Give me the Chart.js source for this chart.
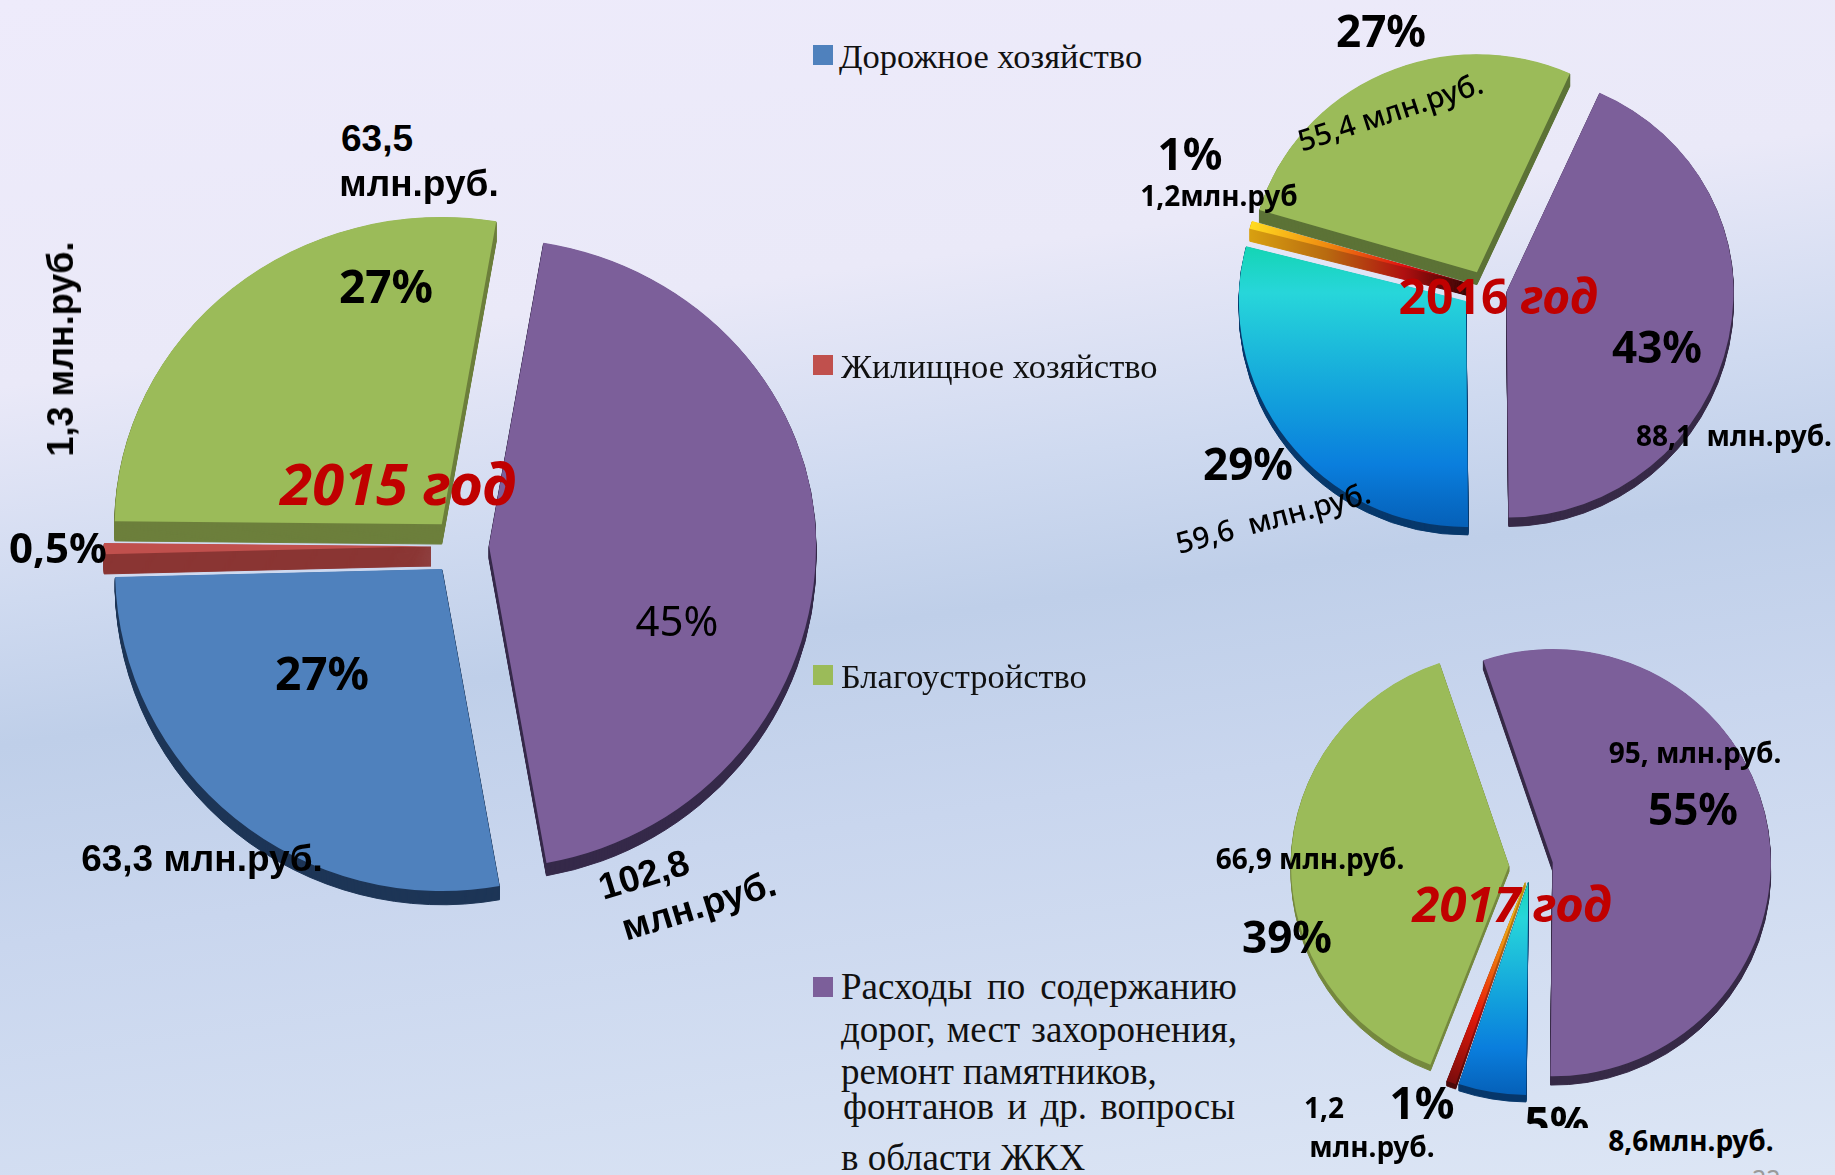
<!DOCTYPE html>
<html lang="ru"><head><meta charset="utf-8">
<script src="https://cdn.jsdelivr.net/npm/chart.js@4"></script>
<style>
html,body{margin:0;padding:0;width:1835px;height:1175px;overflow:hidden}
body{position:relative;background:linear-gradient(172deg,#EEEBFB 0%,#EAE9F8 27%,#CFDAF0 42%,#BFCFE9 52%,#C9D6EE 66%,#DDE6F5 100%)}
canvas{position:absolute}
.t{position:absolute;white-space:pre;color:#000;transform:translate(-50%,-50%);line-height:1;z-index:5}
.leg{position:absolute;white-space:pre;font-family:"Liberation Serif",serif;color:#111;line-height:1;z-index:4}
.sw{position:absolute;width:20px;height:20px;z-index:4}
</style></head><body>
<script>
const categories=['Расходы по содержанию дорог, мест захоронения, ремонт памятников, фонтанов и др. вопросы в области ЖКХ','Дорожное хозяйство','Жилищное хозяйство','Благоустройство'];
const values2015=[102.8,63.3,1.3,63.5];
const values2016=[88.1,59.6,1.2,55.4];
const values2017=[95,8.6,1.2,66.9];
const palette=['#7C5F9A','#4F81BD','#C0504D','#9BBB59'];
const legendLines=['Дорожное хозяйство','Жилищное хозяйство','Благоустройство'];
const legendLong=['Расходы по содержанию','дорог, мест захоронения,','ремонт памятников,','фонтанов  и др. вопросы','в области ЖКХ'];

function blueFace(ctx,a){const r=a.outerRadius,top=Math.min(a.y,a.y+r*Math.sin(a.startAngle),a.y+r*Math.sin(a.endAngle));
  const g=ctx.createLinearGradient(0,top,0,a.y+r);
  g.addColorStop(0,'#14D5B4');g.addColorStop(.17,'#27D6DA');g.addColorStop(.55,'#12A0DC');g.addColorStop(.78,'#0A7EDD');g.addColorStop(1,'#0560B8');return g;}
function fireGrad(ctx,a,stops){const m=(a.startAngle+a.endAngle)/2,r=a.outerRadius;
  const g=ctx.createLinearGradient(a.x,a.y,a.x+r*Math.cos(m),a.y+r*Math.sin(m));stops.forEach(s=>g.addColorStop(s[0],s[1]));return g;}
const fireFace=(c,a)=>fireGrad(c,a,[[0,'#5A0000'],[.3,'#E01010'],[.65,'#F08A10'],[1,'#FFDC20']]);
const fireSide=(c,a)=>fireGrad(c,a,[[0,'#300000'],[.3,'#B01010'],[.65,'#B86A10'],[1,'#D8A010']]);
const fireFaceIn=(c,a)=>fireGrad(c,a,[[0,'#F0D020'],[.3,'#F09010'],[.65,'#E81808'],[1,'#7A0C0C']]);
const fireSideIn=(c,a)=>fireGrad(c,a,[[0,'#C09010'],[.3,'#B06A10'],[.65,'#A01010'],[1,'#4A0808']]);

const explode={id:'explode',beforeDatasetDraw(chart,args,o){
  const ctx=chart.ctx,arcs=chart.getDatasetMeta(0).data;
  const paint=(arc,i,fill,dy,bw)=>{const base=arc.options,m=(arc.startAngle+arc.endAngle)/2;
    const f=typeof fill==='function'?fill(ctx,arc):fill;
    arc.options=Object.assign({},base,{backgroundColor:f,borderColor:f,borderWidth:bw});
    ctx.save();ctx.translate(Math.cos(m)*o.offsets[i],Math.sin(m)*o.offsets[i]+dy);arc.draw(ctx);ctx.restore();arc.options=base;};
  const drawAll=()=>arcs.forEach((arc,i)=>{for(let d=o.depths[i];d>0;d--)paint(arc,i,o.sides[i],d,1);paint(arc,i,o.faces[i],0,0);});
  const cy=Math.round(arcs[0].y),W=chart.width,H=chart.height;
  [[0,cy,o.scaleUp],[cy,H-cy,o.scaleDown]].forEach(([t,h,s])=>{ctx.save();ctx.beginPath();ctx.rect(0,t,W,h);ctx.clip();
    ctx.translate(0,cy);ctx.scale(1,s);ctx.translate(0,-cy);drawAll();ctx.restore();});
  return false;}};

function pie(values,cx,cy,r,rotation,view,faces,sides,offsets,depths){
  const S=2*(r+Math.max(...offsets)+Math.max(...depths)+6);
  const cv=document.createElement('canvas');cv.width=S;cv.height=S;cv.style.left=(cx-S/2)+'px';cv.style.top=(cy-S/2)+'px';
  document.body.appendChild(cv);
  new Chart(cv,{type:'pie',plugins:[explode],data:{labels:categories,datasets:[{data:values,backgroundColor:palette,borderWidth:0,radius:r}]},
    options:{responsive:false,animation:false,rotation,layout:{padding:0},events:[],
      plugins:{legend:{display:false},tooltip:{enabled:false},explode:{faces,sides,offsets,depths,scaleUp:view[0],scaleDown:view[1]}}}});
}
pie(values2015,461,546,327,9.6,[.94,.985],palette,['#35294A','#1D3557','#8A3533','#6C7F3C'],[28,30,30,30],[13,14,20,21]);
pie(values2016,1484,287,227,24.2,[.96,.995],['#7C5F9A',blueFace,fireFace,'#9BBB59'],['#372A47','#07386B',fireSide,'#5C7336'],[23,23,15,17],[9,8,13,13]);
pie(values2017,1531,866,218,-18.6,[.98,.98],['#7C5F9A',blueFace,fireFaceIn,'#9BBB59'],['#372A47','#07386B',fireSideIn,'#75893F'],[22,16,17,22],[9,7,5,6]);

const ARIAL='"Liberation Sans",sans-serif',NOTO='"Noto Sans",sans-serif';
const texts=[
 ['63,5',377,139,37,700,ARIAL,0],['млн.руб.',419,184,37,700,ARIAL,0],['27%',386,285,46,700,NOTO,0],['27%',322,672,46,700,NOTO,0],
 ['45%',677,619,42,400,NOTO,0],['0,5%',58,546,42,700,NOTO,0],['1,3 млн.руб.',61,349,36,700,ARIAL,-90],['63,3 млн.руб.',202,859,37,700,ARIAL,0],
 ['102,8',644,875,37,700,ARIAL,-17],['млн.руб.',699,906,37,700,ARIAL,-17],
 ['27%',1381,30,44,700,NOTO,0],['55,4 млн.руб.',1390,111,29.5,500,NOTO,-18],['1%',1190,153,44,700,NOTO,0],['1,2млн.руб',1219,195,28,700,NOTO,0],
 ['43%',1657,346,44,700,NOTO,0],['88,1  млн.руб.',1734,435,28,700,NOTO,0],['29%',1248,463,44,700,NOTO,0],['59,6  млн.руб.',1273,517,29.5,500,NOTO,-15],
 ['95, млн.руб.',1695,752,28,700,NOTO,0],['55%',1693,808,44,700,NOTO,0],['66,9 млн.руб.',1310,858,28,700,NOTO,0],['39%',1287,936,44,700,NOTO,0],
 ['1%',1422,1102,44,700,NOTO,0],['1,2',1324,1107,28,700,NOTO,0],['млн.руб.',1372,1146,28,700,NOTO,0],['8,6млн.руб.',1691,1140,28,700,NOTO,0]
];
texts.forEach(([s,x,y,size,w,f,rot])=>{const d=document.createElement('div');d.className='t';d.textContent=s;
  d.style.cssText=`left:${x}px;top:${y}px;font:${w} ${size}px ${f};transform:translate(-50%,-50%) rotate(${rot}deg)`;document.body.appendChild(d);});

const titles=[['2015 год',398,482,58,true],['2016 год',1498,295,48,false],['2017 год',1512,903,49,true]];
titles.forEach(([s,x,y,size,it])=>{const d=document.createElement('div');d.className='t';
  const [a,b]=s.split(' ');d.innerHTML=`<span style="font-style:${it?'italic':'normal'}">${a}</span> <span style="font-style:italic">${b}</span>`;
  d.style.cssText=`left:${x}px;top:${y}px;font:700 ${size}px ${NOTO};color:#C00000`;document.body.appendChild(d);});

const clipBox=document.createElement('div');clipBox.style.cssText='position:absolute;left:1500px;top:1095px;width:110px;height:33px;overflow:hidden;z-index:5';
const five=document.createElement('div');five.className='t';five.textContent='5%';five.style.cssText=`left:57px;top:27px;font:700 44px ${NOTO}`;clipBox.appendChild(five);document.body.appendChild(clipBox);
const num=document.createElement('div');num.style.cssText='position:absolute;left:1752px;top:1166px;font:25px "Noto Sans";color:#9A9A9A;line-height:1;z-index:5';num.textContent='22';document.body.appendChild(num);

function sw(x,y,c){const d=document.createElement('div');d.className='sw';d.style.left=x+'px';d.style.top=y+'px';d.style.background=c;document.body.appendChild(d);}
function leg(s,x,y,w,size){const d=document.createElement('div');d.className='leg';d.textContent=s;d.style.left=x+'px';d.style.top=(y-size/2)+'px';d.style.fontSize=size+'px';
  if(w){d.style.width=w+'px';d.style.whiteSpace='normal';d.style.textAlign='justify';d.style.textAlignLast='justify';}document.body.appendChild(d);}
const legendColors=[palette[1],palette[2],palette[3],palette[0]];
const legendY=[56,366,676];
legendLines.forEach((s,i)=>{sw(813,legendY[i]-11,legendColors[i]);leg(s,i?841:839,legendY[i],0,34.5);});
sw(813,977,legendColors[3]);
const longY=[986,1029,1071,1106,1157],longX=[841,841,841,843,841],longW=[396,396,0,392,0];
legendLong.forEach((s,i)=>leg(s,longX[i],longY[i],longW[i],37));
</script></body></html>
